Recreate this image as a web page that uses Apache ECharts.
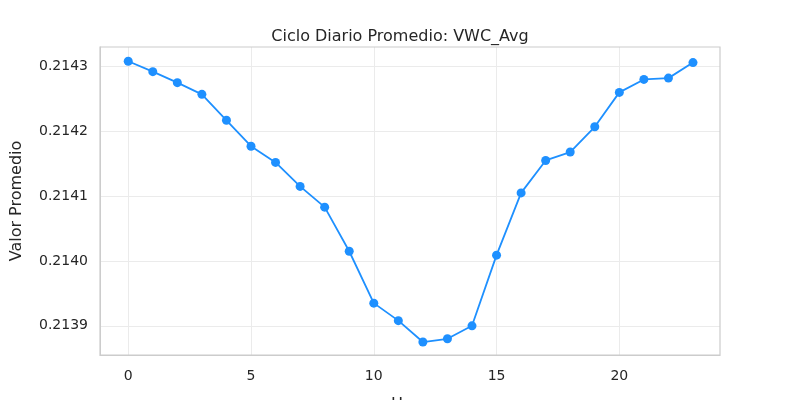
<!DOCTYPE html>
<html><head><meta charset="utf-8">
<script src="https://cdn.jsdelivr.net/npm/echarts@6/dist/echarts.min.js"></script>
<style>html,body{margin:0;background:#fff}#c{width:800px;height:400px}</style>
</head><body><div id="c"></div>
<script>
const hours = [0,1,2,3,4,5,6,7,8,9,10,11,12,13,14,15,16,17,18,19,20,21,22,23];
const values = [0.214308,0.214292,0.214275,0.214257,0.214217,0.214177,0.214152,0.214115,0.214083,0.214015,0.213935,0.213908,0.213875,0.213880,0.213900,0.214009,0.214105,0.214155,0.214168,0.214207,0.214260,0.214280,0.214282,0.214306];
const xTicks = [0,5,10,15,20];
const yTicks = [0.2139,0.2140,0.2141,0.2142,0.2143];
const font = 'DejaVu Sans';
const chart = echarts.init(document.getElementById('c'));
chart.setOption({
  animation:false,
  textStyle:{fontFamily:font},
  title:{text:'Ciclo Diario Promedio: VWC_Avg',left:'center',top:24,textStyle:{fontFamily:font,fontSize:16,fontWeight:'normal',color:'#262626'}},
  grid:{left:100,right:80,top:47,bottom:45,outerBoundsMode:'none',containLabel:false},
  xAxis:{type:'value',min:-1.15,max:24.1,name:'Hora',nameLocation:'middle',nameGap:42,
    nameTextStyle:{fontSize:16,color:'#262626'},
    axisLine:{show:true,onZero:false,lineStyle:{color:'#ccc'}},axisTick:{show:false},
    axisLabel:{customValues:xTicks,fontSize:14,color:'#262626',margin:14},
    splitLine:{show:true,showMinLine:false,showMaxLine:false,lineStyle:{color:'#ebebeb'}}},
  yAxis:{type:'value',min:0.213855,max:0.21433,name:'Valor Promedio',nameLocation:'middle',nameGap:75,
    nameTextStyle:{fontSize:16,color:'#262626'},
    axisLine:{show:true,onZero:false,lineStyle:{color:'#ccc'}},axisTick:{show:false},
    axisLabel:{customValues:yTicks,fontSize:14,color:'#262626',margin:12,formatter:v=>v.toFixed(4)},
    splitLine:{show:true,showMinLine:false,showMaxLine:false,lineStyle:{color:'#ebebeb'}}},
  series:[{type:'line',data:hours.map((h,i)=>[h,values[i]]),symbol:'circle',symbolSize:9,
    lineStyle:{color:'#1e90ff',width:1.8},itemStyle:{color:'#1e90ff'}}],
  graphic:[{type:'rect',z:100,shape:{x:100,y:47,width:620,height:308},style:{fill:'none',stroke:'#ccc',lineWidth:1.2},silent:true}]
});
</script></body></html>
